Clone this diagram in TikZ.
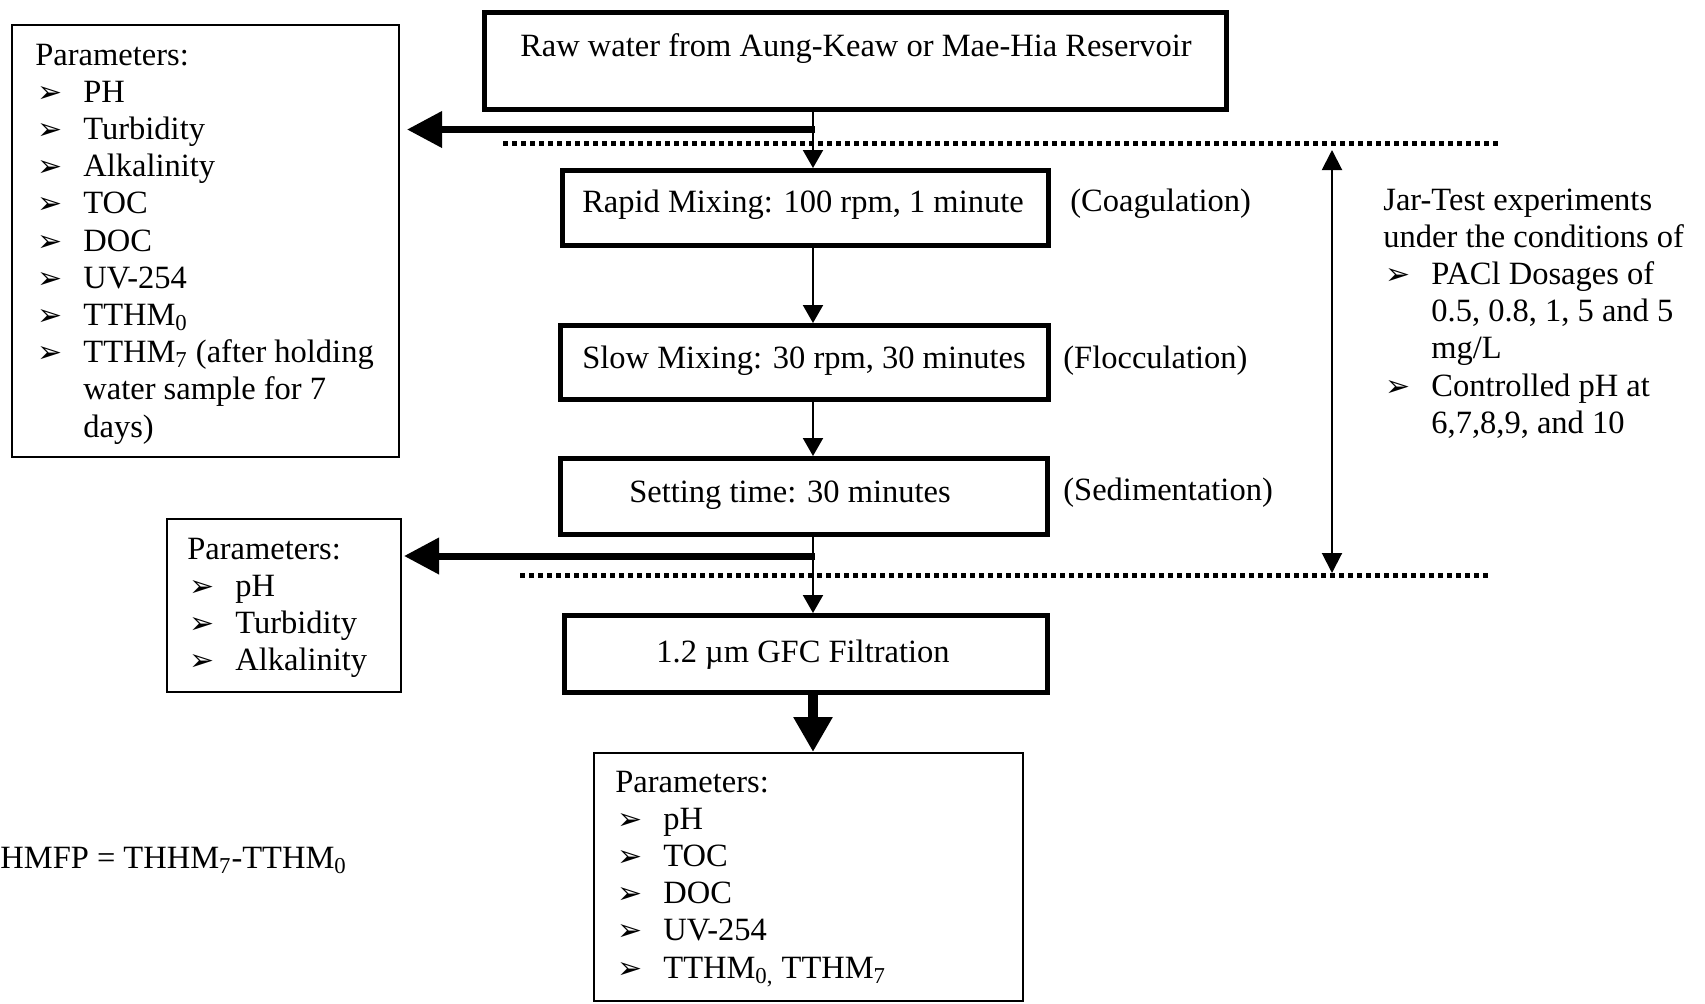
\documentclass[tikz,border=0pt]{standalone}
\usepackage{fontspec}
\setmainfont{Liberation Serif}
\newfontfamily\bulfont{DejaVu Sans}
\usetikzlibrary{arrows.meta}
\newcommand\bul{\hspace*{1pt}\makebox[23pt][l]{\bulfont\fontsize{15}{15}\selectfont ➢}}
\newcommand\li[1]{\hbox{\bul #1}}
\newcommand\ct[1]{\hbox{\hspace*{24pt}#1}}
\newcommand\pl[1]{\hbox{#1}}
\tikzset{
  every node/.style={inner sep=0pt, font=\fontsize{16.25}{18.6}\selectfont},
  procbox/.style={draw, line width=2.5pt},
  listbox/.style={draw, line width=1pt},
  thinarrow/.style={line width=1pt, -{Triangle[width=10pt,length=9pt]}},
  thickarrow/.style={line width=3.5pt, -{Triangle[width=17.5pt,length=17.5pt]}},
  bigarrow/.style={line width=5pt, -{Triangle[width=18.5pt,length=17.5pt]}},
  dotline/.style={line width=2.5pt, dash pattern=on 2.5pt off 2pt},
  jararrow/.style={line width=1pt, {Triangle[width=10pt,length=10pt]}-{Triangle[width=10pt,length=10pt]}},
}
\begin{document}
\begin{tikzpicture}[x=0.5pt,y=-0.5pt]
\useasboundingbox (0,0) rectangle (1705,1003);

% process boxes
\node[procbox, minimum width=371pt, minimum height=48.5pt] (raw) at (855.5,61) {};
\node[procbox, minimum width=243pt, minimum height=37.5pt] (rapid) at (805.5,208) {};
\node[procbox, minimum width=244pt, minimum height=37pt] (slow) at (804.5,362.5) {};
\node[procbox, minimum width=243.5pt, minimum height=38pt] (setting) at (804,496.5) {};
\node[procbox, minimum width=241.5pt, minimum height=38.5pt] (filt) at (806,654) {};

\node[anchor=base] (rawtxt) at (856,56) {Raw water from Aung-Keaw or Mae-Hia Reservoir};
\node[anchor=base] (rapidtxt) at (803,212) {Rapid Mixing: 100 rpm, 1 minute};
\node[anchor=base] (slowtxt) at (804,368) {Slow Mixing: 30 rpm, 30 minutes};
\node[anchor=base] (settxt) at (790,502) {Setting time: 30 minutes};
\node[anchor=base] (filttxt) at (803,662) {1.2 µm GFC Filtration};

\node[anchor=base west] (coag) at (1070,211) {(Coagulation)};
\node[anchor=base west] (floc) at (1063,368) {(Flocculation)};
\node[anchor=base west] (sed) at (1063,500) {(Sedimentation)};

% parameter boxes
\node[listbox, minimum width=193.5pt, minimum height=216pt] (tl) at (205.5,241) {};
\node[listbox, minimum width=117pt, minimum height=86.5pt] (ll) at (284,605.5) {};
\node[listbox, minimum width=214.5pt, minimum height=124pt] (bb) at (808.5,877) {};

\node[anchor=base west] (tltxt) at (35,65) {\vtop{\pl{Parameters:}\li{PH}\li{Turbidity}\li{Alkalinity}\li{TOC}\li{DOC}\li{UV-254}\li{TTHM\textsubscript{0}}\li{TTHM\textsubscript{7} (after holding}\ct{water sample for 7}\ct{days)}}};
\node[anchor=base west] (lltxt) at (187,559) {\vtop{\pl{Parameters:}\li{pH}\li{Turbidity}\li{Alkalinity}}};
\node[anchor=base west] (bbtxt) at (615,792) {\vtop{\pl{Parameters:}\li{pH}\li{TOC}\li{DOC}\li{UV-254}\li{TTHM\textsubscript{0,} TTHM\textsubscript{7}}}};
\node[anchor=base west] (jar) at (1383,210) {\vtop{\pl{Jar-Test experiments}\pl{under the conditions of}\li{PACl Dosages of}\ct{0.5, 0.8, 1, 5 and 5}\ct{mg/L}\li{Controlled pH at}\ct{6,7,8,9, and 10}}};
\node[anchor=base west] (thmfp) at (0,868) {HMFP = THHM\textsubscript{7}-TTHM\textsubscript{0}};

% dotted boundaries
\coordinate (d1a) at (503,143);
\coordinate (d1b) at (1498,143);
\coordinate (d2a) at (520,575);
\coordinate (d2b) at (1488,575);
\draw[dotline] (d1a) -- (d1b);
\draw[dotline] (d2a) -- (d2b);

% connectors
\coordinate (cx) at (813,0);
\coordinate (j1) at (815,129.5);
\coordinate (j2) at (815,556);
\draw[thinarrow] (raw.south -| cx) -- (rapid.north -| cx);
\draw[thinarrow] (rapid.south -| cx) -- (slow.north -| cx);
\draw[thinarrow] (slow.south -| cx) -- (setting.north -| cx);
\draw[thinarrow] (setting.south -| cx) -- (filt.north -| cx);
\draw[bigarrow] (filt.south -| cx) -- (bb.north -| cx);
\draw[thickarrow] (j1) -- ([xshift=3.5pt]tl.east |- j1);
\draw[thickarrow] (j2) -- ([xshift=1pt]ll.east |- j2);

\coordinate (ja) at (1332,150);
\coordinate (jb) at (1332,573);
\draw[jararrow] (ja) -- (jb);
\end{tikzpicture}
\end{document}
